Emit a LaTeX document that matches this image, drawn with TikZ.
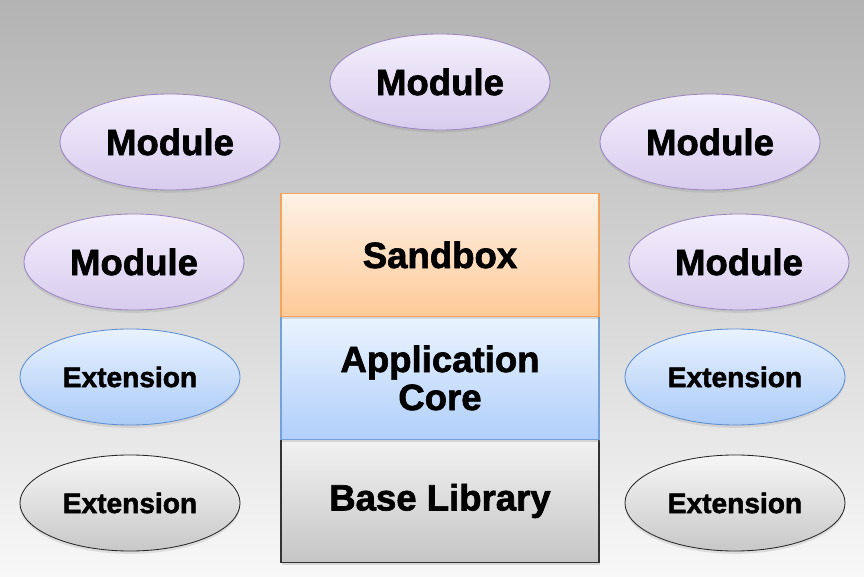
\documentclass[tikz,border=0pt]{standalone}
\usepackage{fontspec}
\setmainfont{Liberation Sans}[BoldFeatures={FakeBold=1.8}]
\usetikzlibrary{shapes.geometric, positioning, shadows}

\definecolor{bgtop}{HTML}{B3B3B3}
\definecolor{bgbot}{HTML}{F8F8F8}
\definecolor{modtop}{HTML}{F3EFFC}
\definecolor{modbot}{HTML}{D8CCEE}
\definecolor{modedge}{HTML}{9A86C2}
\definecolor{exttop}{HTML}{E9F2FE}
\definecolor{extbot}{HTML}{ABCBF7}
\definecolor{extedge}{HTML}{5E8ED2}
\definecolor{greytop}{HTML}{F6F6F6}
\definecolor{greybot}{HTML}{C8C8C8}
\definecolor{sandtop}{HTML}{FFF2E6}
\definecolor{sandbot}{HTML}{FDCA98}
\definecolor{sandedge}{HTML}{F5A55A}
\definecolor{coretop}{HTML}{EBF4FE}
\definecolor{corebot}{HTML}{B0CFFA}
\definecolor{coreedge}{HTML}{75A0DA}
\definecolor{basetop}{HTML}{F2F2F2}
\definecolor{basebot}{HTML}{C5C5C5}

\begin{document}
\begin{tikzpicture}[
    x=0.025cm, y=-0.025cm,
    node distance=0pt,
    every node/.style={
      align=center,
      inner sep=0pt,
      font=\bfseries\fontsize{26}{27}\selectfont
    },
    blob/.style={
      ellipse,
      minimum width=5.5cm,
      minimum height=2.4cm,
      line width=0.6pt,
      drop shadow={shadow xshift=0pt, shadow yshift=-2pt, opacity=0.2}
    },
    module/.style={blob, draw=modedge, top color=modtop, bottom color=modbot},
    ext/.style={blob, draw=extedge, top color=exttop, bottom color=extbot,
      font=\bfseries\fontsize{20}{22}\selectfont},
    extgrey/.style={ext, draw=black!85, top color=greytop, bottom color=greybot},
    layer/.style={
      rectangle,
      outer sep=0pt,
      minimum width=7.95cm,
      minimum height=3.075cm,
      line width=0.9pt,
      drop shadow={shadow xshift=1pt, shadow yshift=-1.5pt, opacity=0.25}
    }
  ]

    % Background
    \shade[top color=bgtop, bottom color=bgbot] (0,0) rectangle (864,577);

    % Modules
    \node (modtop) [module] at (440,82)  {Module};
    \node (modl1)  [module] at (170,142) {Module};
    \node (modr1)  [module] at (710,142) {Module};
    \node (modl2)  [module] at (134,262) {Module};
    \node (modr2)  [module] at (739,262) {Module};

    % Extensions
    \node (extl1) [ext] at (130,377) {Extension};
    \node (extr1) [ext] at (735,377) {Extension};
    \node (extl2) [extgrey] at (130,503) {Extension};
    \node (extr2) [extgrey] at (735,503) {Extension};

    % Centre stack
    \node (base)    [layer, draw=black!80, top color=basetop, bottom color=basebot]
      at (440,501) {Base Library};
    \node (core)    [layer, draw=coreedge, top color=coretop, bottom color=corebot,
      above=of base] {Application\\Core};
    \node (sandbox) [layer, draw=sandedge, top color=sandtop, bottom color=sandbot,
      above=of core] {Sandbox};

  \end{tikzpicture}
\end{document}
